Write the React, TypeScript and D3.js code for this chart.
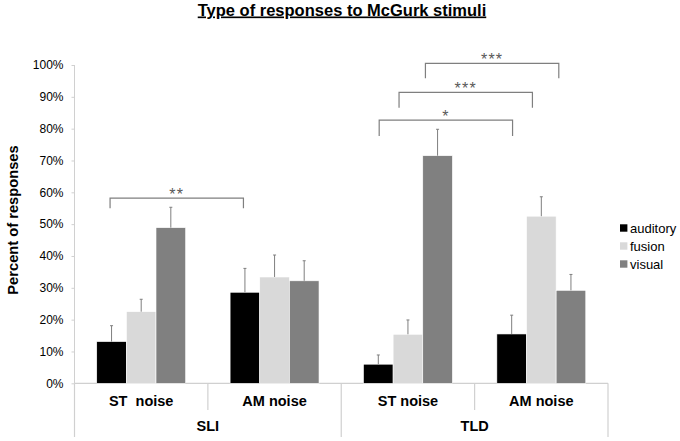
import { useEffect, useRef } from "react"
import * as d3 from "d3"

// Datos
const grupos = ["SLI", "TLD"]
const condiciones = ["ST  noise", "AM noise", "ST noise", "AM noise"]
const grupoDeCondicion = [0, 0, 1, 1]
const series = ["auditory", "fusion", "visual"]
const colores = ["#000000", "#d9d9d9", "#808080"]

// porcentaje por condición (filas) y serie (columnas)
const valores = [
  [13.1, 22.5, 48.9],
  [28.6, 33.4, 32.2],
  [6.0, 15.4, 71.5],
  [15.5, 52.5, 29.2],
]
// extremo superior de la barra de error
const errores = [
  [18.1, 26.4, 55.3],
  [36.1, 40.3, 38.5],
  [8.9, 19.9, 79.8],
  [21.4, 58.6, 34.2],
]
const ticksY = [0, 10, 20, 30, 40, 50, 60, 70, 80, 90, 100]

// Corchetes de significación: condición/serie de inicio y fin, altura superior e inferior (%)
const corchetes = [
  { desde: [0, 0], hasta: [1, 0], arriba: 58.2, abajo: 55.0, etiqueta: "**", corrimiento: -0.05 },
  { desde: [2, 0], hasta: [3, 0], arriba: 82.7, abajo: 77.7, etiqueta: "*", corrimiento: 0.03 },
  { desde: [2, 1], hasta: [3, 1], arriba: 91.4, abajo: 86.6, etiqueta: "***", corrimiento: -0.3 },
  { desde: [2, 2], hasta: [3, 2], arriba: 100.5, abajo: 95.8, etiqueta: "***", corrimiento: -0.41 },
]

export default function App() {
  const svgRef = useRef<SVGSVGElement>(null)

  useEffect(() => {
    if (!svgRef.current) return
    const svg = d3.select(svgRef.current)
    svg.selectAll("*").remove()

    const fuente = "'Liberation Sans', Arial, sans-serif"
    const left = 74.5
    const right = 608
    const yTop = 65
    const yBase = 383.3
    const gris = "#7f7f7f"
    const ejeColor = "#d0d0d0"

    const y = d3.scaleLinear().domain([0, 100]).range([yBase, yTop])
    const x0 = d3.scaleBand<number>().domain(d3.range(condiciones.length)).range([left, right]).padding(0)
    const x1 = d3
      .scaleBand<number>()
      .domain(d3.range(series.length))
      .range([0, x0.bandwidth()])
      .paddingInner(0)
      .paddingOuter(0.75)
    const color = d3.scaleOrdinal<number, string>().domain(d3.range(series.length)).range(colores)

    // Título
    svg
      .append("text")
      .attr("x", 342)
      .attr("y", 15.5)
      .attr("text-anchor", "middle")
      .style("font-family", fuente)
      .style("font-weight", "bold")
      .style("font-size", "16.5px")
      .style("text-decoration", "underline")
      .text("Type of responses to McGurk stimuli")

    // Eje Y
    const ejeY = svg
      .append("g")
      .attr("transform", `translate(${left},0)`)
      .call(
        d3
          .axisLeft(y)
          .tickValues(ticksY)
          .tickSize(3)
          .tickPadding(8)
          .tickFormat((d) => `${d}%`)
      )
    ejeY.select(".domain").attr("stroke", ejeColor).attr("d", `M0,${yTop}V${yBase}`)
    ejeY.selectAll(".tick line").attr("stroke", ejeColor)
    ejeY
      .selectAll(".tick text")
      .attr("fill", "#000")
      .style("font-family", fuente)
      .style("font-size", "12px")

    svg
      .append("text")
      .attr("transform", `translate(18,220) rotate(-90)`)
      .attr("text-anchor", "middle")
      .style("font-family", fuente)
      .style("font-weight", "bold")
      .style("font-size", "14.7px")
      .text("Percent of responses")

    // Eje X agrupado
    const ejeX = svg.append("g").attr("stroke", ejeColor).attr("stroke-width", 1.2)
    ejeX.append("line").attr("x1", left).attr("x2", right).attr("y1", yBase).attr("y2", yBase)
    ejeX.append("line").attr("x1", left).attr("x2", left).attr("y1", yBase).attr("y2", 437)
    condiciones.forEach((_, i) => {
      const xf = x0(i)! + x0.bandwidth()
      const finGrupo = i === condiciones.length - 1 || grupoDeCondicion[i + 1] !== grupoDeCondicion[i]
      ejeX
        .append("line")
        .attr("x1", xf)
        .attr("x2", xf)
        .attr("y1", yBase)
        .attr("y2", finGrupo ? 437 : 410)
    })

    svg
      .append("g")
      .selectAll("text")
      .data(condiciones)
      .enter()
      .append("text")
      .attr("x", (_, i) => x0(i)! + x0.bandwidth() / 2)
      .attr("y", 406)
      .attr("text-anchor", "middle")
      .style("font-family", fuente)
      .style("font-weight", "bold")
      .style("font-size", "14.5px")
      .style("white-space", "pre")
      .text((d) => d)

    svg
      .append("g")
      .selectAll("text")
      .data(grupos)
      .enter()
      .append("text")
      .attr("x", (_, g) => {
        const idx = d3.range(condiciones.length).filter((i) => grupoDeCondicion[i] === g)
        return (x0(idx[0])! + x0(idx[idx.length - 1])! + x0.bandwidth()) / 2
      })
      .attr("y", 431)
      .attr("text-anchor", "middle")
      .style("font-family", fuente)
      .style("font-weight", "bold")
      .style("font-size", "14.5px")
      .text((d) => d)

    // Barras
    const filas = svg
      .append("g")
      .selectAll("g")
      .data(valores)
      .enter()
      .append("g")
      .attr("transform", (_, i) => `translate(${x0(i)},0)`)

    filas
      .selectAll("rect")
      .data((d) => d)
      .enter()
      .append("rect")
      .attr("x", (_, j) => x1(j)!)
      .attr("y", (d) => y(d))
      .attr("width", x1.bandwidth())
      .attr("height", (d) => yBase - y(d))
      .attr("fill", (_, j) => color(j))
      .attr("stroke", "#ffffff")
      .attr("stroke-width", 0.6)

    // Barras de error
    const errG = svg.append("g").attr("stroke", gris).attr("stroke-width", 1)
    errores.forEach((fila, i) => {
      fila.forEach((e, j) => {
        const cx = x0(i)! + x1(j)! + x1.bandwidth() / 2
        errG.append("line").attr("x1", cx).attr("x2", cx).attr("y1", y(valores[i][j])).attr("y2", y(e))
        errG
          .append("line")
          .attr("x1", cx - 1.5)
          .attr("x2", cx + 1.5)
          .attr("y1", y(e))
          .attr("y2", y(e))
      })
    })

    // Corchetes
    const corG = svg.append("g")
    corchetes.forEach((c) => {
      const xa = x0(c.desde[0])! + x1(c.desde[1])! + x1.bandwidth() * (0.5 + c.corrimiento)
      const xb = x0(c.hasta[0])! + x1(c.hasta[1])! + x1.bandwidth() * (0.5 + c.corrimiento)
      corG
        .append("path")
        .attr("d", `M${xa},${y(c.abajo)}V${y(c.arriba)}H${xb}V${y(c.abajo)}`)
        .attr("fill", "none")
        .attr("stroke", gris)
        .attr("stroke-width", 1.2)
      corG
        .append("text")
        .attr("x", (xa + xb) / 2)
        .attr("y", y(c.arriba) + 1.5)
        .attr("text-anchor", "middle")
        .attr("fill", "#595959")
        .style("font-family", fuente)
        .style("font-size", "16px")
        .style("letter-spacing", "1.2px")
        .text(c.etiqueta)
    })

    // Leyenda
    const leyenda = svg.append("g").attr("transform", "translate(620,228)")
    series.forEach((s, j) => {
      const fila = leyenda.append("g").attr("transform", `translate(0,${j * 18})`)
      fila.append("rect").attr("x", 0).attr("y", -3.7).attr("width", 7.4).attr("height", 7.4).attr("fill", color(j))
      fila
        .append("text")
        .attr("x", 10)
        .attr("y", 4.6)
        .style("font-family", fuente)
        .style("font-size", "13px")
        .text(s)
    })
  }, [])

  return (
    <svg
      ref={svgRef}
      width={680}
      height={441}
      style={{ position: "absolute", left: 0, top: 0, background: "#fff" }}
    />
  )
}
